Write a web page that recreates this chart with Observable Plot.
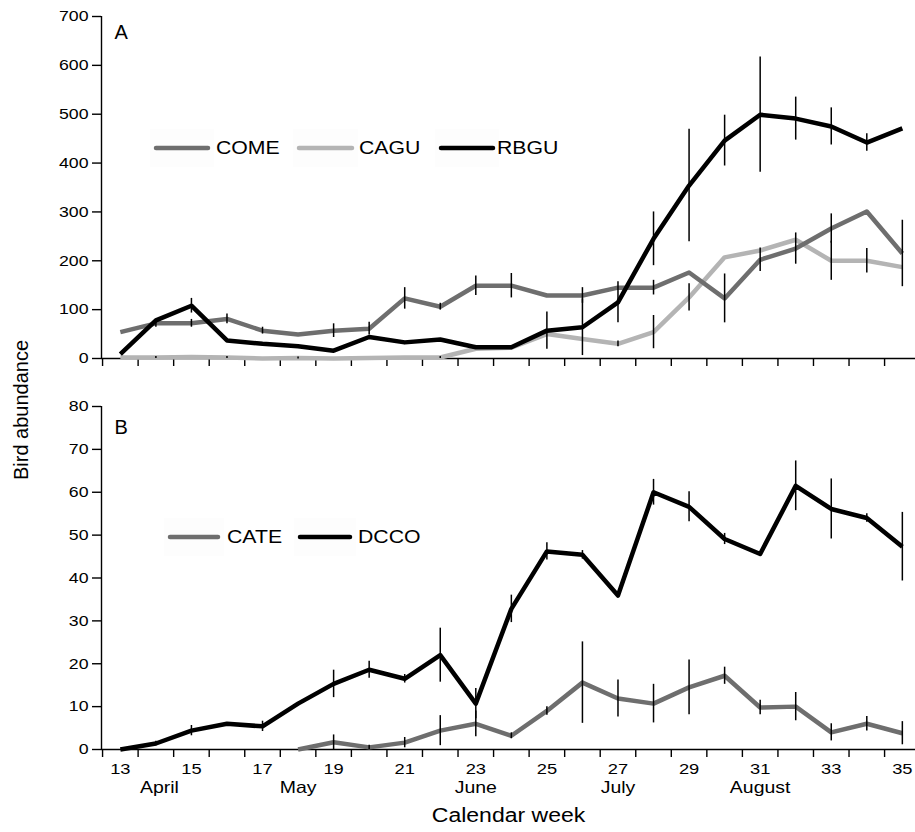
<!DOCTYPE html>
<html>
<head>
<meta charset="utf-8">
<script src="https://cdn.jsdelivr.net/npm/d3@7"></script>
<script src="https://cdn.jsdelivr.net/npm/@observablehq/plot@0.6"></script>
<style>
  body { margin: 0; background: #fff; font-family: "Liberation Sans", Arial, sans-serif; }
  #wrap { position: relative; width: 915px; height: 832px; overflow: hidden; background: #fff; }
  .panel { position: absolute; left: 0; }
  #overlay { position: absolute; left: 0; top: 0; pointer-events: none; }
</style>
</head>
<body>
<div id="wrap">
  <div id="panelA" class="panel" style="top:0px"></div>
  <div id="panelB" class="panel" style="top:390px"></div>
  <svg id="overlay" width="915" height="832"></svg>
</div>
<script>
// ---- categories ----
const weeks = [13,14,15,16,17,18,19,20,21,22,23,24,25,26,27,28,29,30,31,32,33,34,35];
const weekLabels = [13,15,17,19,21,23,25,27,29,31,33,35];
const weekBounds = [12.5,13.5,14.5,15.5,16.5,17.5,18.5,19.5,20.5,21.5,22.5,23.5,24.5,25.5,26.5,27.5,28.5,29.5,30.5,31.5,32.5,33.5,34.5];
const monthNames = ["April","May","June","July","August"];
const monthWeeks = [14.1,18,23,27,31];

// ---- panel A series (bird abundance) ----
const COME     = [54,72,72,81,57,49,57,61,123,106,149,149,129,129,145,145,176,123,202,225,266,301,215];
const COME_err = [0,8,8,10,7,0,14,13,22,7,20,25,0,16,0,15,0,50,24,32,30,0,68];
const CAGU     = [2,2,3,2,0,1,0,1,2,2,20,22,50,40,30,54,125,207,221,243,200,200,187];
const CAGU_err = [0,2,0,2,0,2,0,0,0,2,0,0,0,0,6,34,28,0,0,0,40,25,0];
const RBGU     = [9,78,108,37,30,25,16,44,33,39,23,23,57,64,115,245,354,446,499,491,475,442,471];
const RBGU_err = [0,0,15,0,0,0,0,0,0,0,0,0,38,58,42,55,115,52,118,44,38,18,0];

// ---- panel B series ----
const CATE     = [null,null,null,null,null,0,1.7,0.5,1.6,4.4,6,3.2,9,15.6,11.9,10.7,14.5,17.2,9.8,10,4,6,3.8];
const CATE_err = [0,0,0,0,0,0,1.7,0.5,1.2,3.5,3,0.7,1,9.5,4.3,4.5,6.4,2,1.7,3.3,2,1.7,2.7];
const DCCO     = [0,1.4,4.4,6,5.4,10.7,15.3,18.6,16.5,22,10.7,32.8,46.2,45.4,35.9,60,56.6,49.1,45.6,61.5,56.1,54,47.3];
const DCCO_err = [0,0.5,1.2,0,1.2,0,3.2,2,1,6.3,3.5,3.2,2,1,0,3,3.5,1.3,0,5.8,7,1,8];

const yTicksA = [0,100,200,300,400,500,600,700];
const yTicksB = [0,10,20,30,40,50,60,70,80];

const seriesA = [
  {name: "CAGU", values: CAGU, err: CAGU_err, color: "#b4b4b4"},
  {name: "COME", values: COME, err: COME_err, color: "#6e6e6e"},
  {name: "RBGU", values: RBGU, err: RBGU_err, color: "#000000"}
];
const seriesB = [
  {name: "CATE", values: CATE, err: CATE_err, color: "#6e6e6e"},
  {name: "DCCO", values: DCCO, err: DCCO_err, color: "#000000"}
];
const legendOrderA = ["COME","CAGU","RBGU"];
const legendOrderB = ["CATE","DCCO"];

const xDomain = [12.47, 35.37];
const STRETCH = 1.18; // the original figure's text is widened horizontally

function rows(series) {
  return series.flatMap(s => weeks.map((w, i) => ({
    series: s.name, week: w, value: s.values[i], err: s.err[i], color: s.color
  })));
}

function makePanel(series, yDomain, yTicks, letter, opts) {
  const data = rows(series);
  const errs = data.filter(d => d.value != null && d.err > 0);
  const marks = [
    Plot.ruleY([yDomain[0]], {stroke: "#000", strokeWidth: 1.4}),
    Plot.ruleX([xDomain[0]], {stroke: "#000", strokeWidth: 1.4}),
    Plot.axisY({ticks: yTicks, tickSize: 9, tickPadding: 4, fontSize: 15, strokeWidth: 1.4, label: null}),
    Plot.axisX({ticks: weekBounds, tickSize: 8, tickFormat: () => "", strokeWidth: 1.4, label: null})
  ];
  for (const s of series) {
    marks.push(Plot.line(data.filter(d => d.series === s.name), {
      x: "week", y: "value", stroke: s.color, strokeWidth: 4.5, strokeLinejoin: "round", strokeLinecap: "butt"
    }));
  }
  marks.push(Plot.ruleX(errs, {x: "week", y1: d => d.value - d.err, y2: d => d.value + d.err, stroke: "#000", strokeWidth: 1.5}));
  marks.push(Plot.text([letter], {frameAnchor: "top-left", dx: 13, dy: opts.letterDy, lineAnchor: "middle", textAnchor: "start", fontSize: 20, className: "nostretch"}));
  if (opts.labels) {
    marks.push(Plot.axisX({ticks: weekLabels, tickSize: 0, tickPadding: 13, fontSize: 15.5, label: null}));
    marks.push(Plot.text(monthNames.map((m, i) => ({m, w: monthWeeks[i]})), {x: "w", text: "m", frameAnchor: "bottom", dy: 43, fontSize: 16.5}));
    marks.push(Plot.text(["Calendar week"], {frameAnchor: "bottom", dy: 72, fontSize: 19.5}));
  }
  return Plot.plot({
    width: 915,
    height: opts.height,
    marginTop: 16,
    marginBottom: opts.marginBottom,
    marginLeft: 101,
    marginRight: 0,
    style: {fontFamily: "Liberation Sans, Arial, sans-serif", fontSize: "15px", background: "transparent", overflow: "visible"},
    x: {type: "linear", domain: xDomain},
    y: {domain: yDomain},
    marks
  });
}

function stretchTexts(svg) {
  svg.querySelectorAll("text").forEach(t => {
    if (t.closest(".nostretch")) return;
    const len = t.getComputedTextLength();
    if (len > 0) {
      t.setAttribute("textLength", (len * STRETCH).toFixed(2));
      t.setAttribute("lengthAdjust", "spacingAndGlyphs");
    }
  });
}

const pA = makePanel(seriesA, [0, 700], yTicksA, "A", {height: 372, marginBottom: 14, letterDy: 16});
const pB = makePanel(seriesB, [0, 80], yTicksB, "B", {height: 442, marginBottom: 83, letterDy: 21, labels: true});
document.getElementById("panelA").append(pA);
document.getElementById("panelB").append(pB);
stretchTexts(pA);
stretchTexts(pB);

// ---- legends and shared y title (overlay) ----
const ov = d3.select("#overlay");
const legendLayoutA = [{x1: 156, x2: 208, tx: 216}, {x1: 299, x2: 352, tx: 359}, {x1: 441, x2: 493, tx: 497}];
const legendLayoutB = [{x1: 170, x2: 218, tx: 227}, {x1: 300, x2: 350, tx: 358}];

function drawLegend(series, order, layout, cy) {
  order.forEach((name, i) => {
    const s = series.find(d => d.name === name);
    const L = layout[i];
    ov.append("rect").attr("x", L.x1 - 6).attr("y", cy - 19).attr("width", L.x2 - L.x1 + 12).attr("height", 38).attr("fill", "#fdfdfd");
    ov.append("line").attr("x1", L.x1).attr("x2", L.x2).attr("y1", cy).attr("y2", cy)
      .attr("stroke", s.color).attr("stroke-width", 4.5).attr("stroke-linecap", "round");
    const t = ov.append("text").attr("x", L.tx).attr("y", cy).attr("dy", "0.35em")
      .attr("font-size", 18).attr("font-family", "Liberation Sans, Arial, sans-serif").attr("fill", "#000").text(s.name);
    const len = t.node().getComputedTextLength();
    t.attr("textLength", len * STRETCH).attr("lengthAdjust", "spacingAndGlyphs");
  });
}
drawLegend(seriesA, legendOrderA, legendLayoutA, 148);
drawLegend(seriesB, legendOrderB, legendLayoutB, 537);

ov.append("text")
  .attr("transform", "translate(28,410) rotate(-90)")
  .attr("text-anchor", "middle")
  .attr("font-size", 20)
  .attr("font-family", "Liberation Sans, Arial, sans-serif")
  .attr("fill", "#000")
  .text("Bird abundance");
</script>
</body>
</html>
